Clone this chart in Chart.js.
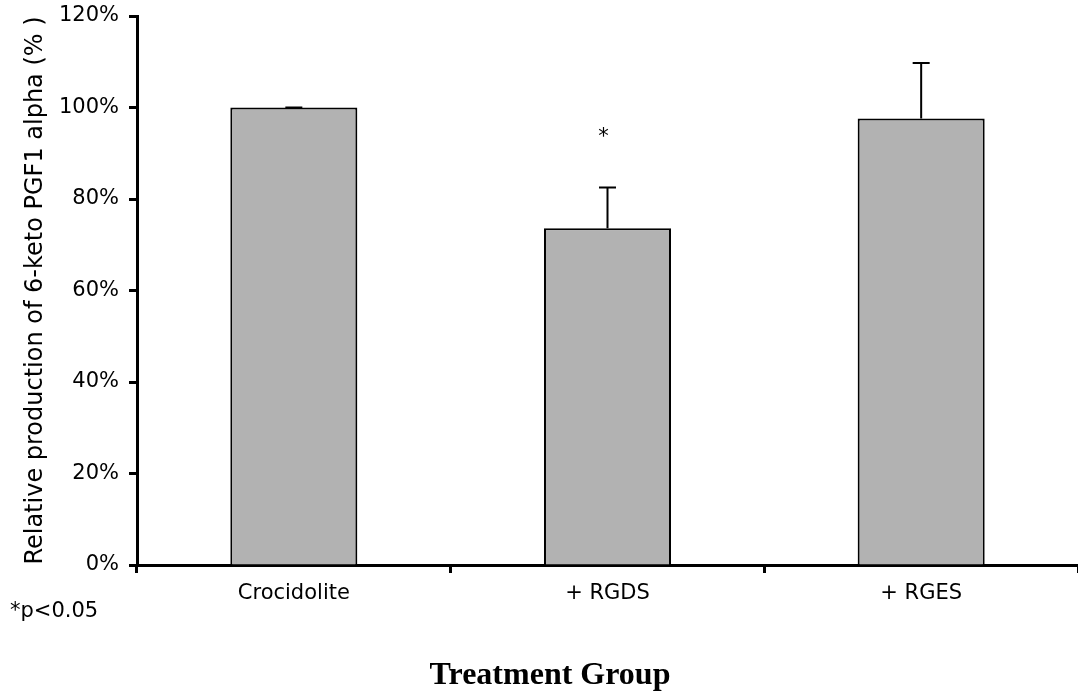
<!DOCTYPE html>
<html>
<head>
<meta charset="utf-8">
<script src="https://cdn.jsdelivr.net/npm/chart.js@4"></script>
<style>
  html, body { margin: 0; padding: 0; background: #fff; }
  #wrap { width: 1078px; height: 692px; }
</style>
</head>
<body>
<div id="wrap"><canvas id="myChart" width="1078" height="692"></canvas></div>
<script>
const categories = ["Crocidolite", "+ RGDS", "+ RGES"];
const relativeProduction = [100, 73.6, 97.6];
const errorUp = [0, 8.9, 12.1];
const marks = ["", "*", ""];
const yTicks = [0, 20, 40, 60, 80, 100, 120];

(() => {
  "use strict";

  const TEXT = "#000";
  const SANS = "'DejaVu Sans', Verdana, sans-serif";

  // error bars, significance star and the loose texts
  const extras = {
    id: "extras",
    afterDatasetsDraw(chart) {
      const { ctx } = chart;
      const x = chart.scales.x;
      const y = chart.scales.y;
      ctx.save();
      ctx.strokeStyle = "#000";
      ctx.lineWidth = 2;
      relativeProduction.forEach((v, i) => {
        const cx = x.getPixelForValue(i);
        const yBar = y.getPixelForValue(v);
        const yTop = y.getPixelForValue(v + errorUp[i]);
        ctx.beginPath();
        ctx.moveTo(cx, yBar);
        ctx.lineTo(cx, yTop);
        ctx.moveTo(cx - 8.5, yTop);
        ctx.lineTo(cx + 8.5, yTop);
        ctx.stroke();
        if (marks[i]) {
          ctx.fillStyle = TEXT;
          ctx.font = "21px " + SANS;
          ctx.textAlign = "center";
          ctx.textBaseline = "alphabetic";
          ctx.fillText(marks[i], cx - 4, yTop - 45);
        }
      });
      ctx.restore();
    },
    afterDraw(chart) {
      const { ctx } = chart;
      ctx.save();
      ctx.fillStyle = TEXT;
      ctx.textBaseline = "alphabetic";
      ctx.font = "21px " + SANS;
      ctx.textAlign = "left";
      ctx.fillText("*p<0.05", 10, 617);
      ctx.font = "bold 32px 'Liberation Serif', 'Times New Roman', serif";
      ctx.textAlign = "center";
      ctx.fillText("Treatment Group", 550, 684);
      ctx.restore();
    },
  };

  const chartEl = document.getElementById("myChart");
  // eslint-disable-next-line no-unused-vars
  const myChart = new Chart(chartEl, {
    type: "bar",
    data: {
      labels: categories,
      datasets: [
        {
          data: relativeProduction,
          backgroundColor: "#b2b2b2",
          borderColor: "#000",
          borderWidth: 2,
          borderSkipped: "bottom",
          categoryPercentage: 1,
          barPercentage: 0.405,
        },
      ],
    },
    options: {
      responsive: false,
      animation: false,
      devicePixelRatio: 1,
      layout: { padding: { top: 16, right: 0, left: 0, bottom: 0 } },
      plugins: {
        legend: { display: false },
        tooltip: { enabled: false },
      },
      scales: {
        x: {
          afterFit(scale) {
            scale.height = 127;
            scale.paddingLeft = 0;
            scale.paddingRight = 0;
          },
          grid: {
            offset: true,
            drawOnChartArea: false,
            drawTicks: true,
            tickLength: 8,
            tickWidth: 3,
            tickColor: "#000",
          },
          border: { display: true, color: "#000", width: 3 },
          ticks: {
            color: TEXT,
            padding: 8,
            maxRotation: 0,
            font: { family: SANS, size: 21 },
          },
        },
        y: {
          min: 0,
          max: 120,
          afterFit(scale) {
            scale.width = 137;
            scale.paddingTop = 0;
            scale.paddingBottom = 0;
          },
          afterBuildTicks(scale) {
            scale.ticks = yTicks.map((v) => ({ value: v }));
          },
          grid: {
            drawOnChartArea: false,
            drawTicks: true,
            tickLength: 8,
            tickWidth: 3,
            tickColor: "#000",
          },
          border: { display: true, color: "#000", width: 3 },
          ticks: {
            color: TEXT,
            padding: 10,
            font: { family: SANS, size: 21 },
            callback: (v) => v + "%",
          },
          title: {
            display: true,
            text: "Relative production of 6-keto PGF1 alpha (% )",
            color: TEXT,
            padding: { top: 21, bottom: 0 },
            font: { family: SANS, size: 24 },
          },
        },
      },
    },
    plugins: [extras],
  });
})();
</script>
</body>
</html>
